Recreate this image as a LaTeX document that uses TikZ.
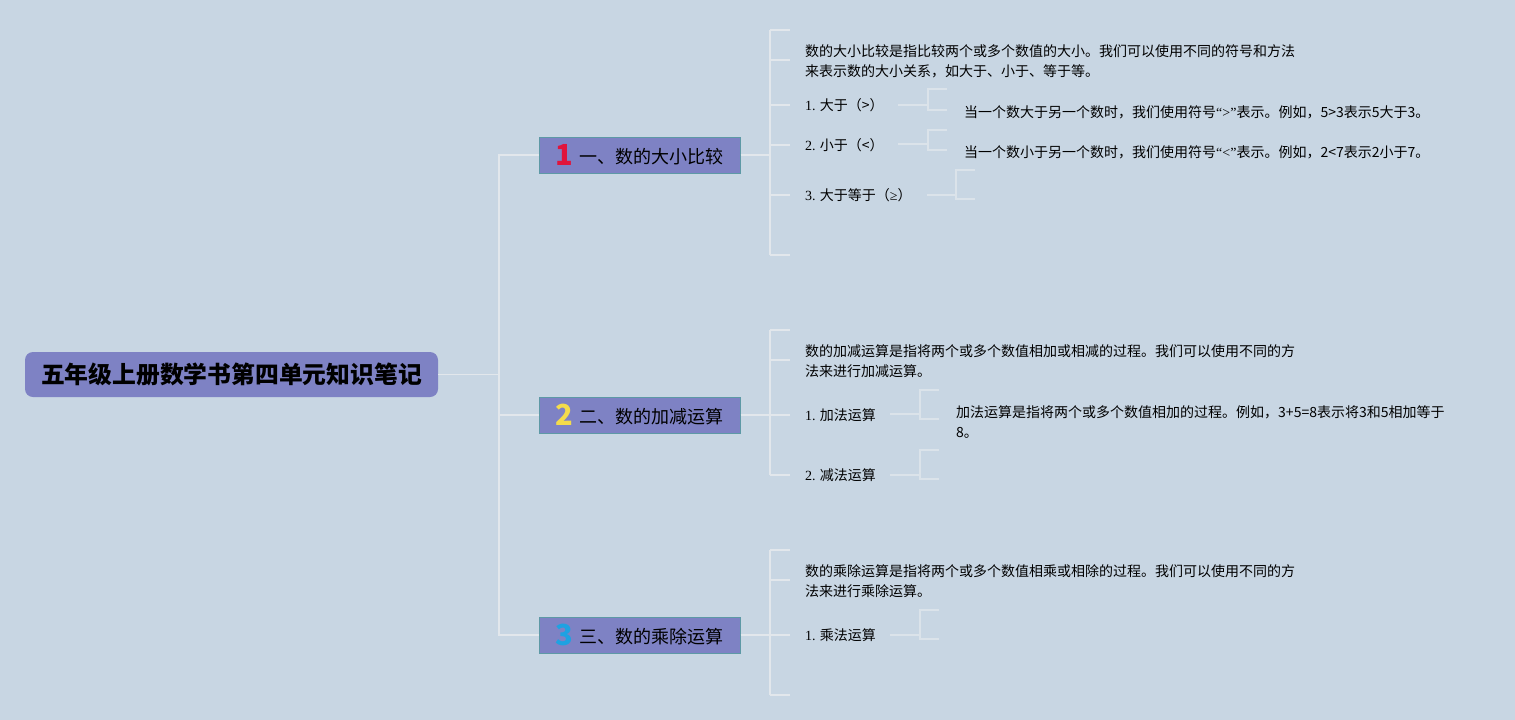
\documentclass[tikz,border=0pt]{standalone}
\usepackage{fontspec}
\setmainfont{Noto Sans CJK SC}
\newfontfamily\latfont{Liberation Serif}
\usetikzlibrary{positioning, calc}

\definecolor{bgblue}{HTML}{C8D6E3}
\definecolor{boxfill}{HTML}{7E82C4}
\definecolor{boxedge}{HTML}{5E99A6}
\definecolor{linegray}{HTML}{E2E7EC}
\definecolor{numred}{HTML}{E0143C}
\definecolor{numyellow}{HTML}{F4DC4C}
\definecolor{numblue}{HTML}{1EA2E2}

\newcommand{\topicnum}[2]{\raisebox{-2.5pt}{\color{#1}\bfseries\fontsize{29}{29}\selectfont #2}\hspace{6pt}}
% twig: from (#1,#3) to (#2,#3), then a bracket at x=#2 from y=#4 to y=#5
\newcommand{\twig}[5]{%
  \draw[twigline] (#1,#3) -- (#2,#3);
  \draw[twigline] ($(#2,#4)+(19,0)$) -- (#2,#4) -- (#2,#5) -- ++(19,0);}

\begin{document}
\begin{tikzpicture}[x=1pt, y=-1pt,
  conn/.style={draw=linegray, line width=1.6pt},
  twigline/.style={draw=linegray!75!bgblue, line width=1.6pt},
  rootbox/.style={fill=boxfill, rounded corners=8pt, inner sep=0pt,
    minimum width=413pt, minimum height=45pt,
    font=\bfseries\fontsize{23.8}{28}\selectfont},
  topicbox/.style={fill=boxfill, draw=boxedge, line width=1pt, inner sep=0pt,
    minimum width=201pt, minimum height=36pt,
    font=\fontsize{18}{22}\selectfont},
  leaf/.style={anchor=west, inner sep=0pt, align=left,
    font=\fontsize{14}{20}\selectfont}]

  \useasboundingbox (0,0) rectangle (1515,720);
  \fill[bgblue] (0,0) rectangle (1515,720);

  \node[rootbox] (root) at (231.5,374.5) {五年级上册数学书第四单元知识笔记};

  \node[topicbox] (t1) at (639.5,155) {\topicnum{numred}{1}一、数的大小比较};
  \node[topicbox] (t2) at (639.5,415) {\topicnum{numyellow}{2}二、数的加减运算};
  \node[topicbox] (t3) at (639.5,635) {\topicnum{numblue}{3}三、数的乘除运算};

  \coordinate (hub) at (499,374.5);
  \draw[conn] (root.east) -- (hub);
  \draw[conn] (t1.west) -| (hub) |- (t3.west);
  \draw[conn] (t2.west) -- (hub |- t2.west);

  % topic 1
  \coordinate (s1) at (770,155);
  \draw[conn] (t1.east) -- (s1);
  \draw[conn] (770,30) -- (770,255);
  \foreach \y in {30,60,105,145,195,255}
    \draw[conn] (770,\y) -- (790,\y);
  \node[leaf] (d1) at (805,61) {数的大小比较是指比较两个或多个数值的大小。我们可以使用不同的符号和方法\\来表示数的大小关系，如大于、小于、等于等。};
  \node[leaf] (i11) at (805,105) {{\latfont 1.} 大于（>）};
  \node[leaf] (i12) at (805,145) {{\latfont 2.} 小于（<）};
  \node[leaf] (i13) at (805,195) {{\latfont 3.} 大于等于（{\latfont ≥}）};
  \twig{898}{928}{105}{89}{110}
  \twig{898}{928}{144}{130}{150}
  \twig{927}{956}{195}{170}{199}
  \node[leaf] (g11) at (964,112) {当一个数大于另一个数时，我们使用符号{\latfont “>”}表示。例如，5>3表示5大于3。};
  \node[leaf] (g12) at (964,152) {当一个数小于另一个数时，我们使用符号{\latfont “<”}表示。例如，2<7表示2小于7。};

  % topic 2
  \coordinate (s2) at (770,415);
  \draw[conn] (t2.east) -- (s2);
  \draw[conn] (770,330) -- (770,475);
  \foreach \y in {330,360,415,475}
    \draw[conn] (770,\y) -- (790,\y);
  \node[leaf] (d2) at (805,361) {数的加减运算是指将两个或多个数值相加或相减的过程。我们可以使用不同的方\\法来进行加减运算。};
  \node[leaf] (i21) at (805,415) {{\latfont 1.} 加法运算};
  \node[leaf] (i22) at (805,475) {{\latfont 2.} 减法运算};
  \twig{890}{920}{414}{390}{419}
  \twig{890}{920}{475}{450}{479}
  \node[leaf] (g21) at (956,422) {加法运算是指将两个或多个数值相加的过程。例如，3+5=8表示将3和5相加等于\\8。};

  % topic 3
  \coordinate (s3) at (770,635);
  \draw[conn] (t3.east) -- (s3);
  \draw[conn] (770,550) -- (770,695);
  \foreach \y in {550,580,635,695}
    \draw[conn] (770,\y) -- (790,\y);
  \node[leaf] (d3) at (805,581) {数的乘除运算是指将两个或多个数值相乘或相除的过程。我们可以使用不同的方\\法来进行乘除运算。};
  \node[leaf] (i31) at (805,635) {{\latfont 1.} 乘法运算};
  \twig{890}{920}{635}{610}{639}
\end{tikzpicture}
\end{document}
